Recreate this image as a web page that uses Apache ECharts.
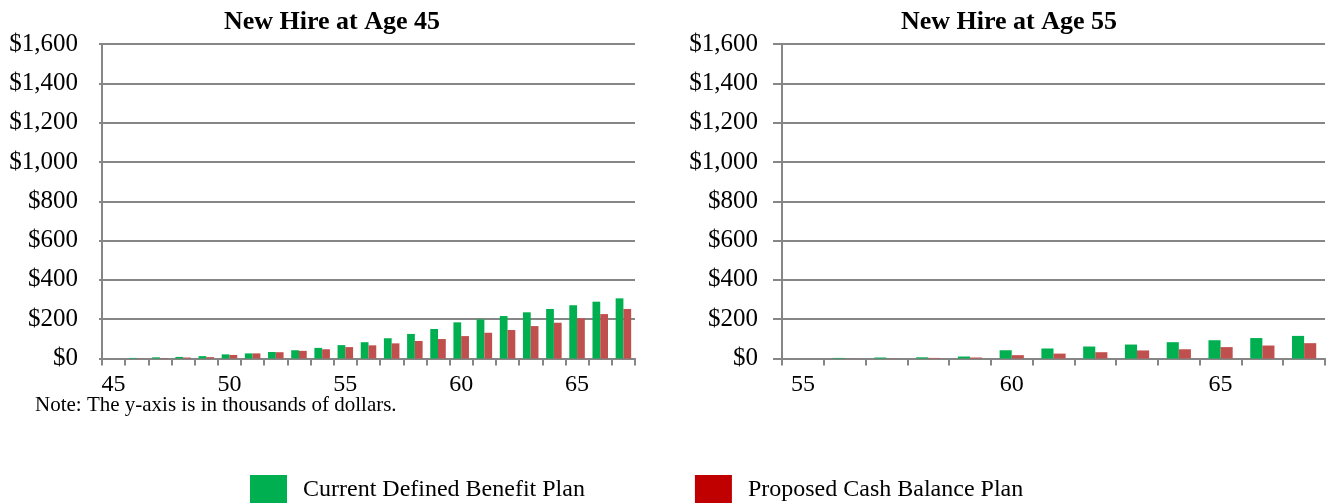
<!DOCTYPE html>
<html><head><meta charset="utf-8">
<script src="https://cdn.jsdelivr.net/npm/echarts@6/dist/echarts.min.js"></script>
<style>html,body{margin:0;padding:0;background:#fff}#c{width:1333px;height:503px}</style>
</head><body><div id="c"></div>
<script>
const ages45 = ['45','46','47','48','49','50','51','52','53','54','55','56','57','58','59','60','61','62','63','64','65','66','67'];
const currentDB45 = [0, 3, 6, 8, 12, 21, 26, 33, 42, 54, 68, 83, 103, 125, 150, 184, 199, 216, 235, 252, 271, 289, 306];
const cashBal45 = [0, 1, 2, 5, 7, 18, 26, 32, 39, 47, 58, 67, 77, 89, 99, 114, 131, 145, 165, 182, 204, 226, 252];
const ages55 = ['55','56','57','58','59','60','61','62','63','64','65','66','67'];
const currentDB55 = [0, 3, 5, 6, 10, 42, 51, 61, 71, 83, 93, 104, 115];
const cashBal55 = [0, 0.5, 1, 3, 5, 17, 25, 32, 41, 47, 58, 66, 78];
const titles = ['New Hire at Age 45', 'New Hire at Age 55'];
const seriesNames = ['Current Defined Benefit Plan', 'Proposed Cash Balance Plan'];
const noteText = 'Note: The y-axis is in thousands of dollars.';

const FONT = "'Liberation Serif', 'Times New Roman', serif";
const GRAY = '#868686';
const GREEN = '#00B050';
const RED = '#C0504D';
const LEGEND_RED = '#C00000';

function yAxis(gi, tickLen) {
  return {
    type: 'value', gridIndex: gi, min: 0, max: 1600, interval: 200,
    axisLine: { show: true, lineStyle: { color: GRAY, width: 2 } },
    axisTick: { show: true, length: tickLen, lineStyle: { color: GRAY, width: 2 } },
    splitLine: { show: true, lineStyle: { color: GRAY, width: 2 } },
    axisLabel: {
      margin: 24, color: '#000', fontFamily: FONT, fontSize: 25,
      formatter: v => '$' + v.toLocaleString('en-US')
    }
  };
}
function xAxis(gi, data) {
  return {
    type: 'category', gridIndex: gi, data: data,
    axisLine: { show: true, lineStyle: { color: GRAY, width: 2 } },
    axisTick: { show: true, interval: 0, length: 7, lineStyle: { color: GRAY, width: 2 } },
    axisLabel: { interval: 4, margin: 14, color: '#000', fontFamily: FONT, fontSize: 24 }
  };
}
function bar(name, gi, data, color, catGap) {
  return {
    type: 'bar', name: name, xAxisIndex: gi, yAxisIndex: gi, data: data,
    barGap: '0%', barCategoryGap: catGap,
    itemStyle: { color: color }, animation: false
  };
}

const chart = echarts.init(document.getElementById('c'), null, { renderer: 'canvas' });
chart.setOption({
  backgroundColor: '#fff',
  animation: false,
  title: [
    { text: titles[0], left: 327, top: 4, textAlign: 'center',
      textStyle: { fontFamily: FONT, fontSize: 26, fontWeight: 'bold', color: '#000' } },
    { text: titles[1], left: 1004, top: 4, textAlign: 'center',
      textStyle: { fontFamily: FONT, fontSize: 26, fontWeight: 'bold', color: '#000' } }
  ],
  grid: [
    { left: 102, right: 698, top: 44, bottom: 144.5, containLabel: false },
    { left: 782, right: 8, top: 44, bottom: 144.5, containLabel: false }
  ],
  xAxis: [xAxis(0, ages45), xAxis(1, ages55)],
  yAxis: [yAxis(0, 3), yAxis(1, 9)],
  legend: {
    left: 250, top: 475, padding: 0, itemWidth: 37, itemHeight: 30, itemGap: 110,
    icon: 'rect',
    textStyle: { fontFamily: FONT, fontSize: 24, color: '#000', padding: [0, 0, 0, 11] },
    data: [
      { name: seriesNames[0], itemStyle: { color: GREEN } },
      { name: seriesNames[1], itemStyle: { color: LEGEND_RED } }
    ]
  },
  graphic: [
    { type: 'text', left: 35, top: 395,
      style: { text: noteText, font: "21px 'Liberation Serif', 'Times New Roman', serif", fill: '#000' } }
  ],
  series: [
    bar(seriesNames[0], 0, currentDB45, GREEN, '33%'),
    bar(seriesNames[1], 0, cashBal45, RED, '33%'),
    bar(seriesNames[0], 1, currentDB55, GREEN, '42%'),
    bar(seriesNames[1], 1, cashBal55, RED, '42%')
  ]
});
</script>
</body></html>
